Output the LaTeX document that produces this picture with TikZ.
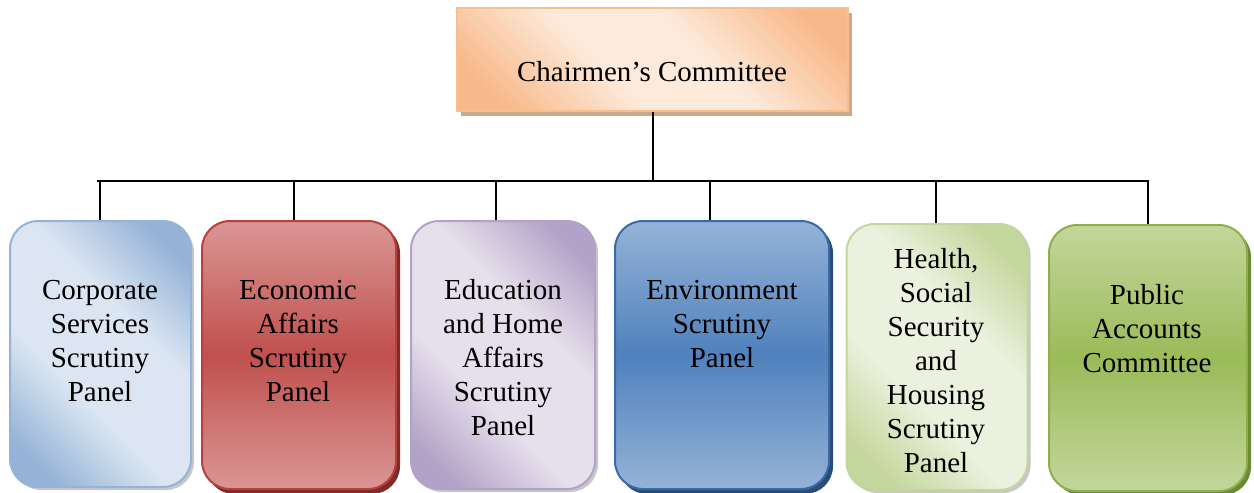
\documentclass[tikz,border=0pt]{standalone}
\usepackage{fontspec}
\setmainfont{Liberation Serif}
\usetikzlibrary{shadows}
\definecolor{orB}{HTML}{F9BE8E}
\definecolor{orL}{HTML}{FDEADA}
\definecolor{orD}{HTML}{F8B98A}
\definecolor{blB}{HTML}{95B3D7}
\definecolor{blL}{HTML}{DCE6F2}
\definecolor{reB}{HTML}{B9403D}
\definecolor{reM}{HTML}{C0504D}
\definecolor{reL}{HTML}{DA9694}
\definecolor{reS}{HTML}{7F2B29}
\definecolor{puB}{HTML}{B3A2C7}
\definecolor{puL}{HTML}{E6E0EC}
\definecolor{enB}{HTML}{3A6BA8}
\definecolor{enM}{HTML}{4F81BD}
\definecolor{enL}{HTML}{95B3D7}
\definecolor{enS}{HTML}{2A4D78}
\definecolor{grB}{HTML}{C3D69B}
\definecolor{grL}{HTML}{EBF1DE}
\definecolor{gdB}{HTML}{8DB04A}
\definecolor{gdM}{HTML}{9BBB59}
\definecolor{gdL}{HTML}{C3D69B}
\definecolor{gdS}{HTML}{6A8A35}
\definecolor{tanS}{HTML}{C9A88C}
\pgfdeclareverticalshading{diagblue}{100bp}{color(0bp)=(blB); color(22bp)=(blB); color(40bp)=(blL); color(60bp)=(blL); color(78bp)=(blB); color(100bp)=(blB)}
\pgfdeclareverticalshading{diagpurple}{100bp}{color(0bp)=(puB); color(22bp)=(puB); color(40bp)=(puL); color(60bp)=(puL); color(78bp)=(puB); color(100bp)=(puB)}
\pgfdeclareverticalshading{diaggreen}{100bp}{color(0bp)=(grB); color(22bp)=(grB); color(40bp)=(grL); color(60bp)=(grL); color(78bp)=(grB); color(100bp)=(grB)}
\pgfdeclareverticalshading{diagorange}{100bp}{color(0bp)=(orD); color(22bp)=(orD); color(42bp)=(orL); color(58bp)=(orL); color(78bp)=(orD); color(100bp)=(orD)}
\tikzset{
  box/.style={rounded corners=28pt, line width=2pt, inner sep=0pt},
  lightbox/.style={box, drop shadow={shadow xshift=3pt, shadow yshift=-3pt, fill=black!22, opacity=1}},
  darkbox/.style={box},
  lbl/.style={align=center, font=\fontsize{29}{34}\selectfont, inner sep=0pt},
  conn/.style={line width=2pt, black}
}
\begin{document}
\begin{tikzpicture}[x=1pt,y=-1pt]
\useasboundingbox (0,0) rectangle (1254,493);
% top box
\fill[tanS] (461,13) rectangle (852,116);
\node[draw=orB, line width=1.5pt, minimum width=391pt, minimum height=103pt, inner sep=0pt,
  shading=diagorange, shading angle=-45] (top) at (652.5,59.5) {};
\node[lbl] (toplbl) at (652,72) {Chairmen’s Committee};
% boxes
\node[lightbox, draw=blB, minimum width=181pt, minimum height=266pt,
  shading=diagblue, shading angle=-45] (b1) at (100.5,354) {};
\fill[reS, rounded corners=28pt] (206,225) rectangle (400,494);
\node[darkbox, draw=reB, minimum width=194pt, minimum height=268pt,
  top color=reL, bottom color=reL, middle color=reM] (b2) at (299,355) {};
\node[lightbox, draw=puB, minimum width=184pt, minimum height=268pt,
  shading=diagpurple, shading angle=-45] (b3) at (503,355) {};
\fill[enS, rounded corners=28pt] (619,225) rectangle (833,494);
\node[darkbox, draw=enB, minimum width=214pt, minimum height=268pt,
  top color=enL, bottom color=enL, middle color=enM] (b4) at (722,355) {};
\node[lightbox, draw=grB, minimum width=181pt, minimum height=266pt,
  shading=diaggreen, shading angle=-45] (b5) at (937,357) {};
\fill[gdS, rounded corners=28pt] (1053,229) rectangle (1251,495);
\node[darkbox, draw=gdB, minimum width=198pt, minimum height=266pt,
  top color=gdL, bottom color=gdL, middle color=gdM] (b6) at (1148,358) {};
% labels
\node[lbl] (t1) at (100,341) {Corporate\\Services\\Scrutiny\\Panel};
\node[lbl] (t2) at (298,341) {Economic\\Affairs\\Scrutiny\\Panel};
\node[lbl] (t3) at (503,358) {Education\\and Home\\Affairs\\Scrutiny\\Panel};
\node[lbl] (t4) at (722,324) {Environment\\Scrutiny\\Panel};
\node[lbl] (t5) at (936,361) {Health,\\Social\\Security\\and\\Housing\\Scrutiny\\Panel};
\node[lbl] (t6) at (1147,329) {Public\\Accounts\\Committee};
% connectors
\coordinate (busL) at (97,181);
\coordinate (busR) at (1149,181);
\coordinate (d1) at (100,181);
\coordinate (d2) at (294,181);
\coordinate (d3) at (496,181);
\coordinate (d4) at (710,181);
\coordinate (d5) at (936,181);
\coordinate (d6) at (1148,181);
\draw[conn] (busL) -- (busR);
\draw[conn] (top.south) -- (top.south |- busL);
\draw[conn] (d1) -- (d1 |- b1.north);
\draw[conn] (d2) -- (d2 |- b2.north);
\draw[conn] (d3) -- (d3 |- b3.north);
\draw[conn] (d4) -- (d4 |- b4.north);
\draw[conn] (d5) -- (d5 |- b5.north);
\draw[conn] (d6) -- (d6 |- b6.north);
\end{tikzpicture}
\end{document}
